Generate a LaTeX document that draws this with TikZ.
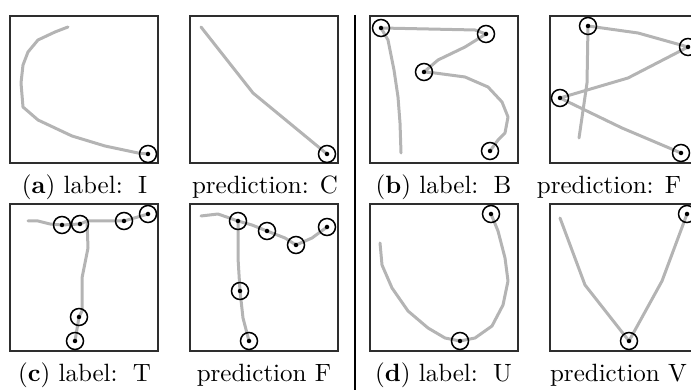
\documentclass[tikz,border=0pt]{standalone}
\usepackage{tikz}
\usetikzlibrary{positioning}
\definecolor{InkGray}{HTML}{B4B4B4}
\definecolor{FrameGray}{HTML}{2E2E2E}

\tikzset{
  panel/.style={draw=FrameGray, line width=0.6pt, minimum width=59.2pt,
                minimum height=58.8pt, inner sep=0pt, outer sep=0pt, anchor=north west},
  ink/.style={draw=InkGray, line width=1.2pt, line join=round, line cap=round},
  caption/.style={anchor=base, inner sep=0pt, font=\fontsize{10}{12}\selectfont}
}
\newcommand{\penpoint}[1]{%
  \draw[black, line width=0.6pt] #1 circle (3.4pt);
  \fill[black] #1 circle (0.9pt);}

\begin{document}
\begin{tikzpicture}[x=0.4pt, y=-0.4pt]
  \useasboundingbox (0,0) rectangle (691,390);

  \foreach \name/\px/\py in {boxA/10/16, predA/190/16, boxB/370/16, predB/550/16,
                             boxC/10/204, predC/190/204, boxD/370/204, predD/550/204}
    \node[panel] (\name) at (\px,\py) {};

  % divider between the two halves
  \coordinate (divtop) at (355,15);
  \coordinate (divbot) at (355,390);
  \draw[line width=1pt] (divtop) -- (divbot);

  % (a) I -> C
  \begin{scope}[shift={(boxA.north west)}]
    \draw[ink] (58,11) -- (45,16) -- (28,24) -- (18,36) -- (13,49) -- (11,67) -- (13,91)
      -- (28,104) -- (62,120) -- (95,130) -- (128,137) -- (138,138);
    \penpoint{(138,138)}
  \end{scope}
  \begin{scope}[shift={(predA.north west)}]
    \draw[ink] (11,11) -- (63,77) -- (137,138);
    \penpoint{(137,138)}
  \end{scope}

  % (b) B -> F
  \begin{scope}[shift={(boxB.north west)}]
    \draw[ink] (11,12) -- (18,24) -- (24,54) -- (28,81) -- (30,107) -- (31,137);
    \draw[ink] (11,12) -- (105,14) -- (116,18) -- (95,31) -- (68,44) -- (54,56) -- (65,57)
      -- (95,61) -- (118,71) -- (132,86) -- (138,101) -- (135,117) -- (128,124) -- (120,135);
    \foreach \p in {(11,12),(116,18),(54,56),(120,135)} {\penpoint{\p}}
  \end{scope}
  \begin{scope}[shift={(predB.north west)}]
    \draw[ink] (38,10) -- (37,67) -- (29,122);
    \draw[ink] (38,10) -- (88,17) -- (138,31) -- (78,62) -- (10,82) -- (72,112) -- (131,137);
    \foreach \p in {(38,10),(138,31),(10,82),(131,137)} {\penpoint{\p}}
  \end{scope}

  % (c) T -> F
  \begin{scope}[shift={(boxC.north west)}]
    \draw[ink] (18,17) -- (28,17) -- (40,20) -- (52,21) -- (70,20) -- (77,17) -- (114,17) -- (138,10);
    \draw[ink] (77,17) -- (78,44) -- (72,74) -- (72,107) -- (69,113) -- (65,137);
    \foreach \p in {(52,21),(70,20),(114,17),(138,10),(69,113),(65,137)} {\penpoint{\p}}
  \end{scope}
  \begin{scope}[shift={(predC.north west)}]
    \draw[ink] (11,12) -- (28,10) -- (48,17) -- (62,21) -- (77,27) -- (95,34) -- (106,41)
      -- (122,34) -- (137,23);
    \draw[ink] (48,17) -- (48,54) -- (50,87) -- (53,114) -- (59,137);
    \foreach \p in {(48,17),(77,27),(106,41),(137,23),(50,87),(59,137)} {\penpoint{\p}}
  \end{scope}

  % (d) U -> V
  \begin{scope}[shift={(boxD.north west)}]
    \draw[ink] (10,39) -- (12,61) -- (22,84) -- (38,107) -- (58,124) -- (75,134) -- (90,137)
      -- (105,134) -- (122,122) -- (133,101) -- (138,77) -- (135,54) -- (128,27) -- (121,10);
    \foreach \p in {(121,10),(90,137)} {\penpoint{\p}}
  \end{scope}
  \begin{scope}[shift={(predD.north west)}]
    \draw[ink] (10,14) -- (35,81) -- (79,137) -- (112,77) -- (137,10);
    \foreach \p in {(137,10),(79,137)} {\penpoint{\p}}
  \end{scope}

  \node[caption] (capA) at (84.5,194) {(\textbf{a}) label: \,I};
  \node[caption] (capPA) at (265,194) {prediction: C};
  \node[caption] (capB) at (443.5,194) {(\textbf{b}) label: \,B};
  \node[caption] (capPB) at (609,194) {prediction: F};
  \node[caption] (capC) at (84.5,382) {(\textbf{c}) label: \,T};
  \node[caption] (capPC) at (264,382) {prediction F};
  \node[caption] (capD) at (443.5,382) {(\textbf{d}) label: \,U};
  \node[caption] (capPD) at (618.5,382) {prediction V};
\end{tikzpicture}
\end{document}
